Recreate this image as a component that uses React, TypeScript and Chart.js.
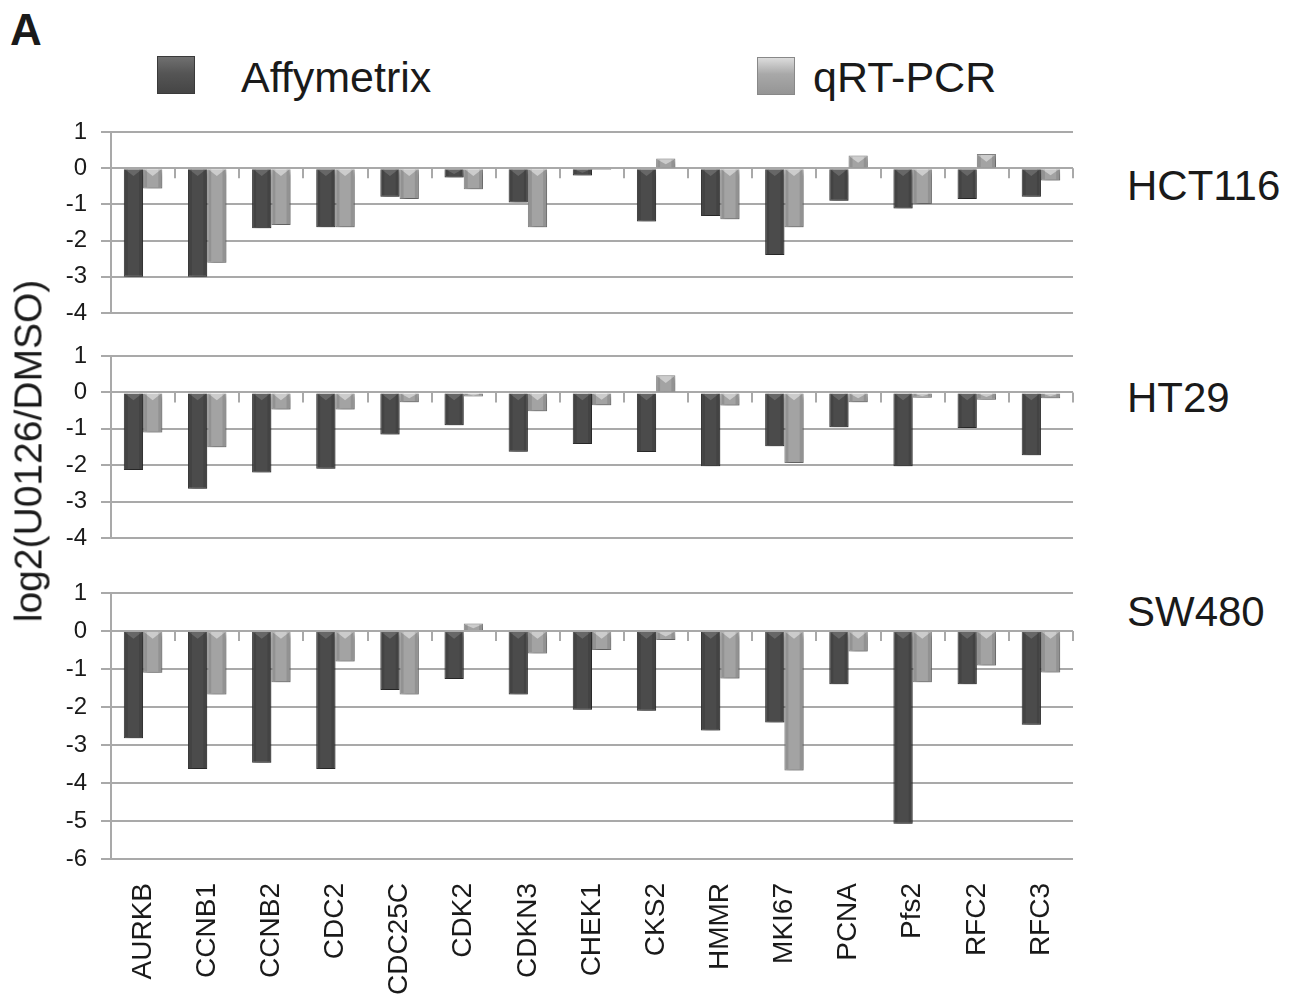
import React, { useEffect, useRef } from 'react';
import { Chart, registerables } from 'chart.js';

Chart.register(...registerables);

// ---- data ----
const categories = ['AURKB', 'CCNB1', 'CCNB2', 'CDC2', 'CDC25C', 'CDK2', 'CDKN3', 'CHEK1', 'CKS2', 'HMMR', 'MKI67', 'PCNA', 'Pfs2', 'RFC2', 'RFC3'];
const seriesNames = ['Affymetrix', 'qRT-PCR'];
const panelNames = ['HCT116', 'HT29', 'SW480'];

const hct116Affymetrix = [-3.0, -3.0, -1.66, -1.63, -0.79, -0.26, -0.95, -0.2, -1.47, -1.32, -2.4, -0.9, -1.11, -0.85, -0.79];
const hct116Qrt = [-0.56, -2.61, -1.57, -1.63, -0.85, -0.58, -1.63, -0.05, 0.27, -1.41, -1.63, 0.35, -0.99, 0.39, -0.34];

const ht29Affymetrix = [-2.13, -2.65, -2.2, -2.1, -1.16, -0.9, -1.63, -1.42, -1.64, -2.03, -1.48, -0.96, -2.03, -0.98, -1.73];
const ht29Qrt = [-1.1, -1.51, -0.47, -0.47, -0.27, -0.11, -0.52, -0.35, 0.47, -0.36, -1.94, -0.27, -0.15, -0.2, -0.16];

const sw480Affymetrix = [-2.82, -3.63, -3.47, -3.63, -1.55, -1.26, -1.67, -2.07, -2.1, -2.62, -2.41, -1.4, -5.07, -1.4, -2.47];
const sw480Qrt = [-1.1, -1.67, -1.35, -0.8, -1.67, 0.2, -0.59, -0.5, -0.24, -1.25, -3.67, -0.54, -1.35, -0.91, -1.09];

const yMax = [1, 1, 1];
const yMin = [-4, -4, -6];

// ---- style ----
const FONT = '"Liberation Sans", Arial, Helvetica, sans-serif';
const GRID = '#a9a9a9';
const TEXT = '#1a1a1a';
const DARK = '#4b4b4b';
const DARK_BORDER = '#353535';
const LIGHT = '#a3a3a3';
const LIGHT_BORDER = '#858585';

const zeroTicksPlugin = {
  id: 'zeroTicks',
  beforeDatasetsDraw(chart: any) {
    const xs = chart.scales.x;
    const ys = chart.scales.y;
    const ctx = chart.ctx;
    const y0 = ys.getPixelForValue(0);
    const half = (xs.getPixelForValue(1) - xs.getPixelForValue(0)) / 2;
    ctx.save();
    ctx.strokeStyle = GRID;
    ctx.lineWidth = 2;
    for (let i = 0; i < categories.length; i++) {
      const px = Math.round(xs.getPixelForValue(i) + half);
      ctx.beginPath();
      ctx.moveTo(px, y0);
      ctx.lineTo(px, y0 + 10);
      ctx.stroke();
    }
    ctx.restore();
  },
};

const shadowPlugin = {
  id: 'barShadow',
  beforeDatasetsDraw(chart: any) {
    const ctx = chart.ctx;
    ctx.save();
    ctx.shadowColor = 'rgba(0,0,0,0.35)';
    ctx.shadowBlur = 5;
    ctx.shadowOffsetX = 2;
    ctx.shadowOffsetY = 3;
  },
  afterDatasetsDraw(chart: any) {
    chart.ctx.restore();
  },
};

const bevelPlugin = {
  id: 'barBevel',
  afterDatasetsDraw(chart: any) {
    const ctx = chart.ctx;
    const y0 = chart.scales.y.getPixelForValue(0);
    chart.data.datasets.forEach((_ds: any, di: number) => {
      const meta = chart.getDatasetMeta(di);
      meta.data.forEach((el: any) => {
        const { x, y, width } = el.getProps(['x', 'y', 'width']);
        const top = Math.min(y, y0);
        const h = Math.abs(y - y0);
        if (h < 3) return;
        const d = Math.min(width * 0.35, h / 2);
        ctx.save();
        ctx.fillStyle = di === 0 ? 'rgba(255,255,255,0.16)' : 'rgba(255,255,255,0.45)';
        ctx.beginPath();
        ctx.moveTo(x - width / 2 + 1, top + 1);
        ctx.lineTo(x + width / 2 - 1, top + 1);
        ctx.lineTo(x, top + 1 + d);
        ctx.closePath();
        ctx.fill();
        ctx.fillStyle = 'rgba(0,0,0,0.10)';
        ctx.fillRect(x - width / 2 + 1, top + 1, 3, h - 2);
        ctx.fillRect(x + width / 2 - 4, top + 1, 3, h - 2);
        ctx.restore();
      });
    });
  },
};

interface PanelProps {
  affy: number[];
  qrt: number[];
  min: number;
  max: number;
  top: number;
  height: number;
  showLabels: boolean;
}

function Panel({ affy, qrt, min, max, top, height, showLabels }: PanelProps) {
  const ref = useRef<HTMLCanvasElement | null>(null);
  useEffect(() => {
    if (!ref.current) return;
    const chart = new Chart(ref.current, {
      type: 'bar',
      data: {
        labels: categories,
        datasets: [
          {
            label: seriesNames[0],
            data: affy,
            backgroundColor: DARK,
            borderColor: DARK_BORDER,
            borderWidth: 1,
            categoryPercentage: 0.6,
            barPercentage: 1.0,
          },
          {
            label: seriesNames[1],
            data: qrt,
            backgroundColor: LIGHT,
            borderColor: LIGHT_BORDER,
            borderWidth: 1,
            categoryPercentage: 0.6,
            barPercentage: 1.0,
          },
        ],
      },
      options: {
        animation: false,
        responsive: false,
        maintainAspectRatio: false,
        layout: { padding: { top: 20, bottom: showLabels ? 0 : 20, left: 0, right: 10 } },
        plugins: { legend: { display: false }, tooltip: { enabled: false } },
        scales: {
          x: {
            display: showLabels,
            grid: { display: false, drawTicks: false },
            border: { display: false },
            ticks: {
              autoSkip: false,
              minRotation: 90,
              maxRotation: 90,
              padding: 24,
              color: TEXT,
              font: { family: FONT, size: 28 },
            },
            afterFit: (s: any) => {
              if (showLabels) s.height = 137;
              s.paddingLeft = 0;
              s.paddingRight = 0;
            },
          },
          y: {
            min,
            max,
            stacked: false,
            ticks: {
              stepSize: 1,
              padding: 14,
              color: TEXT,
              font: { family: FONT, size: 24 },
            },
            grid: { color: GRID, lineWidth: 2, tickLength: 10 },
            border: { color: GRID, width: 2 },
            afterFit: (s: any) => {
              s.width = 111;
              s.paddingTop = 0;
              s.paddingBottom = 0;
            },
          },
        },
      } as any,
      plugins: [zeroTicksPlugin, shadowPlugin, bevelPlugin],
    });
    return () => chart.destroy();
  }, [affy, qrt, min, max, showLabels]);

  return (
    <canvas
      ref={ref}
      width={1083}
      height={height}
      style={{ position: 'absolute', left: 0, top, width: 1083, height }}
    />
  );
}

const textStyle = (left: number, middle: number, size: number, bold = false): React.CSSProperties => ({
  position: 'absolute',
  left,
  top: middle,
  transform: 'translateY(-50%)',
  fontSize: size,
  lineHeight: 1,
  fontWeight: bold ? 700 : 400,
  whiteSpace: 'nowrap',
  fontFamily: FONT,
  color: TEXT,
});

export default function App() {
  return (
    <div
      style={{
        position: 'absolute',
        left: 0,
        top: 0,
        width: 1292,
        height: 996,
        background: '#ffffff',
        overflow: 'hidden',
        fontFamily: FONT,
      }}
    >
      <div style={textStyle(10, 30, 44, true)}>A</div>

      <div
        style={{
          position: 'absolute',
          left: 157,
          top: 56,
          width: 38,
          height: 38,
          boxSizing: 'border-box',
          border: '1px solid #3a3a3a',
          background: 'linear-gradient(to bottom, #707070 0%, #555555 45%, #454545 100%)',
        }}
      />
      <div style={textStyle(241, 77, 43)}>{seriesNames[0]}</div>

      <div
        style={{
          position: 'absolute',
          left: 757,
          top: 57,
          width: 38,
          height: 38,
          boxSizing: 'border-box',
          border: '1px solid #888888',
          background: 'linear-gradient(to bottom, #dcdcdc 0%, #a8a8a8 45%, #959595 100%)',
        }}
      />
      <div style={textStyle(813, 77, 43)}>{seriesNames[1]}</div>

      <Panel affy={hct116Affymetrix} qrt={hct116Qrt} min={yMin[0]} max={yMax[0]} top={112} height={221} showLabels={false} />
      <Panel affy={ht29Affymetrix} qrt={ht29Qrt} min={yMin[1]} max={yMax[1]} top={336} height={222} showLabels={false} />
      <Panel affy={sw480Affymetrix} qrt={sw480Qrt} min={yMin[2]} max={yMax[2]} top={573} height={423} showLabels={true} />

      <div style={textStyle(1127, 186, 42)}>{panelNames[0]}</div>
      <div style={textStyle(1127, 398, 42)}>{panelNames[1]}</div>
      <div style={textStyle(1127, 612, 42)}>{panelNames[2]}</div>

      <div
        style={{
          position: 'absolute',
          left: 28,
          top: 451,
          transform: 'translate(-50%, -50%) rotate(-90deg)',
          fontSize: 39,
          lineHeight: 1,
          whiteSpace: 'nowrap',
          fontFamily: FONT,
          color: TEXT,
        }}
      >
        log2(U0126/DMSO)
      </div>
    </div>
  );
}
